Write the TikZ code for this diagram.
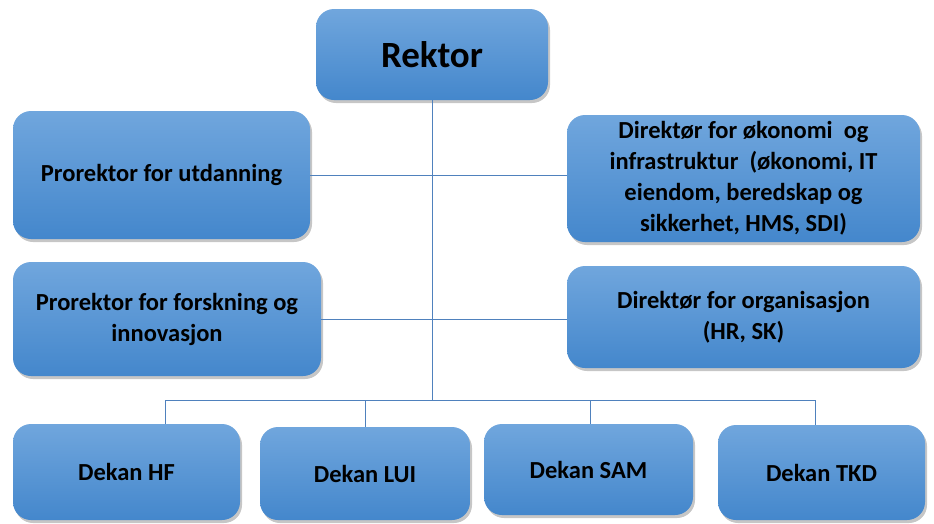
\documentclass[tikz,border=0pt]{standalone}
\usepackage{fontspec}
\setmainfont{Carlito}
\usetikzlibrary{shadows}

\definecolor{boxtop}{RGB}{112,166,221}
\definecolor{boxbot}{RGB}{68,135,204}
\definecolor{linkblue}{RGB}{79,129,189}

\tikzset{
  orgbox/.style={draw=none, rounded corners=18pt, top color=boxtop, bottom color=boxbot,
    drop shadow={shadow xshift=2pt, shadow yshift=-3pt, opacity=0.45},
    align=center, font=\fontsize{24.5}{31}\selectfont\bfseries, text=black},
  link/.style={draw=linkblue, line width=0.7pt}
}

\begin{document}
\begin{tikzpicture}[x=1pt, y=-1pt]
\useasboundingbox (0,0) rectangle (934,523);

% the boxes
\node[orgbox, minimum width=232pt, minimum height=91pt, font=\fontsize{37}{42}\selectfont\bfseries] (rektor) at (432, 54.5) {Rektor};

\node[orgbox, minimum width=297pt, minimum height=128pt] (pro utd) at (161.5, 175) {Prorektor for utdanning};
\node[orgbox, minimum width=353pt, minimum height=127pt] (dir okn) at (743.5, 178.5) {Direktør for økonomi\ \ og\\infrastruktur\ \ (økonomi, IT\\eiendom, beredskap og\\sikkerhet, HMS, SDI)};

\node[orgbox, minimum width=308pt, minimum height=114pt] (pro fi) at (167, 319) {Prorektor for forskning og\\innovasjon};
\node[orgbox, minimum width=353pt, minimum height=102pt] (dir org) at (743.5, 317) {Direktør for organisasjon\\(HR, SK)};

\node[orgbox, minimum width=227pt, minimum height=96pt] (dek hf) at (126.5, 472) {Dekan HF};
\node[orgbox, minimum width=210pt, minimum height=93pt] (dek lui) at (365, 473.5) {Dekan LUI};
\node[orgbox, minimum width=209pt, minimum height=91pt] (dek sam) at (588.5, 469.5) {Dekan SAM};
\node[orgbox, minimum width=207pt, minimum height=95pt] (dek tkd) at (821.5, 472.5) {Dekan TKD};

% the lines
\coordinate (bus) at (432, 400);
\draw[link] (rektor.south) -- (bus);
\draw[link] (pro utd.east) -- (dir okn.west |- pro utd.east);
\draw[link] (pro fi.east) -- (dir org.west |- pro fi.east);

\coordinate (bus hf) at (165, 400);
\coordinate (bus lui) at (365, 400);
\coordinate (bus sam) at (590, 400);
\coordinate (bus tkd) at (815, 400);
\draw[link] (bus hf) -- (bus tkd);
\draw[link] (bus hf) -- (bus hf |- dek hf.north);
\draw[link] (bus lui) -- (dek lui.north);
\draw[link] (bus sam) -- (bus sam |- dek sam.north);
\draw[link] (bus tkd) -- (bus tkd |- dek tkd.north);
\end{tikzpicture}
\end{document}
